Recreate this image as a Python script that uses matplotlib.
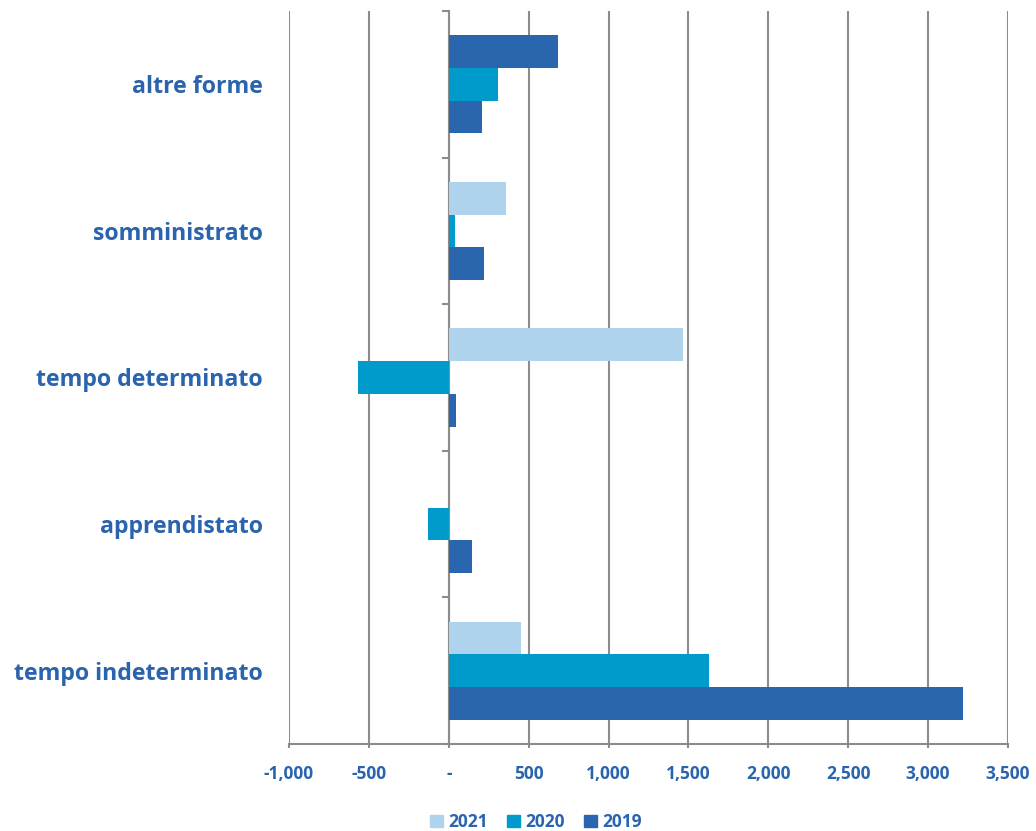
import matplotlib
matplotlib.use("Agg")
from matplotlib import pyplot as plt
from matplotlib.ticker import FuncFormatter
from matplotlib.patches import Patch
import numpy as np

categories = ["tempo indeterminato", "apprendistato", "tempo determinato",
              "somministrato", "altre forme"]
years = ["2021", "2020", "2019"]
v2021 = [452, 0, 1466, 356, 683]
v2020 = [1626, -128, -570, 41, 308]
v2019 = [3219, 143, 47, 218, 210]

c2021, c2020, c2019 = "#afd3ec", "#009bca", "#2a66ae"
txt = "#2a64ae"
grey = "#8c8c8c"

plt.rcParams["font.family"] = ["Open Sans", "DejaVu Sans"]

fig = plt.figure(figsize=(10.36, 8.31), dpi=100)
ax = fig.add_axes([289 / 1036, 1 - 744 / 831, 719 / 1036, 733 / 831])

y = np.arange(len(categories))
h = 0.223
# the first group's top bar is dark blue in the original
cols21 = [c2021, c2021, c2021, c2021, c2019]
ax.barh(y + h, v2021, height=h, color=cols21, zorder=3)
ax.barh(y, v2020, height=h, color=c2020, zorder=3)
ax.barh(y - h, v2019, height=h, color=c2019, zorder=3)

ax.set_xlim(-1000, 3500)
ax.set_ylim(-0.5, len(categories) - 0.5)
ax.set_xticks(np.arange(-1000, 3501, 500))
ax.xaxis.set_major_formatter(FuncFormatter(lambda v, p: "-" if v == 0 else f"{v:,.0f}"))
ax.grid(axis="x", color=grey, lw=1.5, zorder=0)
for s in ["top", "right", "left"]:
    ax.spines[s].set_visible(False)
ax.spines["bottom"].set_color(grey)
ax.spines["bottom"].set_linewidth(1.5)
ax.tick_params(axis="x", colors=grey, length=3, width=1.5, pad=12,
               labelcolor=txt, labelsize=12.5)
for t in ax.get_xticklabels():
    t.set_fontweight("bold")

ax.set_yticks(y)
ax.set_yticklabels(categories, color=txt, fontsize=16.7, fontweight="bold")
ax.tick_params(axis="y", length=0, pad=19)

sec = ax.secondary_yaxis(1000 / 4500)
sec.set_yticks(np.arange(-0.5, len(categories), 1.0))
sec.set_yticklabels([])
sec.tick_params(length=5, width=1.5, color=grey)
sec.spines["left"].set_color(grey)
sec.spines["left"].set_linewidth(1.5)

handles = [Patch(color=c) for c in (c2021, c2020, c2019)]
leg = fig.legend(handles, years, loc="center", bbox_to_anchor=(536 / 1036, 1 - 822 / 831),
                 ncol=3, frameon=False, handlelength=0.75, handleheight=0.75,
                 handletextpad=0.3, columnspacing=1.1,
                 prop={"weight": "bold", "size": 12.5})
for t in leg.get_texts():
    t.set_color(txt)

fig.savefig("out.png", dpi=100)
